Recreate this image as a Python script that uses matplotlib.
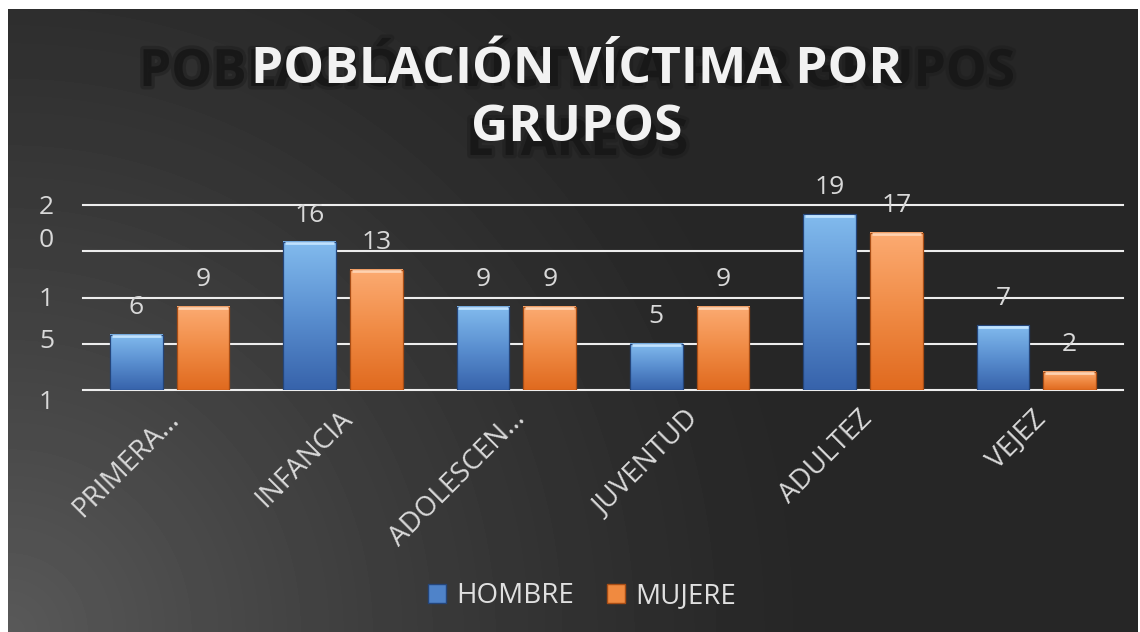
import matplotlib
matplotlib.use('agg')
import matplotlib.pyplot as plt
from matplotlib.colors import LinearSegmentedColormap
from matplotlib.patches import Patch
import matplotlib.transforms as mtransforms
import matplotlib.patheffects as pe
import numpy as np

categories = ['PRIMERA…', 'INFANCIA', 'ADOLESCEN…', 'JUVENTUD', 'ADULTEZ', 'VEJEZ']
hombre = [6, 16, 9, 5, 19, 7]
mujere = [9, 13, 9, 9, 17, 2]
series_names = ['HOMBRE', 'MUJERE']
gridlines = [0, 5, 10, 15, 20]
# the y labels are drawn wrapped/garbled in the original
y_tick_text = ['2', '0', '1', '5', '1']
y_tick_pos = [19.7, 16.2, 9.8, 5.2, -1.3]
title_lines = ['POBLACIÓN VÍCTIMA POR', 'GRUPOS']
ghost_lines = ['POBLACIÓN VÍCTIMA POR GRUPOS', 'ETAREOS']

W, H = 1140, 632
fig = plt.figure(figsize=(W / 100, H / 100), dpi=100)
fig.patch.set_facecolor('white')

# dark background with a soft light spot at bottom left
bg = fig.add_axes([8 / W, 0, 1130 / W, 623 / H])
yy, xx = np.mgrid[0:623, 0:1130]
d = np.sqrt((xx - 0) ** 2 + (yy - 623) ** 2)
grad = 0.149 + 0.2 * np.clip(1 - d / 820, 0, 1) ** 1.3
bg.imshow(grad, cmap='gray', vmin=0, vmax=1, aspect='auto', interpolation='bilinear')
bg.axis('off')

txt = '#d9d9d9'
font = 'Open Sans'

ax = fig.add_axes([83 / W, 242 / H, 1040 / W, 185 / H])
ax.patch.set_visible(False)
ax.set_xlim(-0.5, 5.5)
ax.set_ylim(0, 20)
for s in ax.spines.values():
    s.set_visible(False)

ax.set_yticks(gridlines)
ax.yaxis.grid(True, color='#ededed', lw=1.5)
for gl in ax.get_ygridlines():
    gl.set_clip_on(False)
ax.set_axisbelow(True)
ax.tick_params(axis='y', length=0, labelleft=False)

x = np.arange(len(categories))
w = 0.305
off = 0.1925
b1 = ax.bar(x - off, hombre, w, color='none', zorder=2)
b2 = ax.bar(x + off, mujere, w, color='none', zorder=2)

blue_cm = LinearSegmentedColormap.from_list('b', ['#3763ab', '#5a8fd0', '#82bbee'])
orange_cm = LinearSegmentedColormap.from_list('o', ['#e06a1f', '#f08b45', '#fcab72'])
g = np.linspace(0, 1, 128).reshape(-1, 1)

for bars, cm, edge, hi, vals in [(b1, blue_cm, '#24457a', '#bfe2ff', hombre),
                                 (b2, orange_cm, '#a84d15', '#ffd2b0', mujere)]:
    for p, v in zip(bars, vals):
        x0, h = p.get_x(), p.get_height()
        ax.imshow(g, cmap=cm, extent=[x0, x0 + w, 0, h], origin='lower',
                  aspect='auto', zorder=3)
        ax.add_patch(plt.Rectangle((x0, 0), w, h, fill=False, ec=edge, lw=0.9, zorder=4))
        ax.hlines(h - 0.15, x0 + 0.01, x0 + w - 0.01, color=hi, lw=2, zorder=5)
        ax.text(x0 + w / 2, h + 2.9, str(v), ha='center', va='center',
                fontsize=19, color=txt, family=font, zorder=6)

ax.set_xlim(-0.5, 5.5)
ax.set_ylim(0, 20)

trans = mtransforms.blended_transform_factory(ax.transAxes, ax.transData)
for t, yp in zip(y_tick_text, y_tick_pos):
    ax.text(-0.035, yp, t, transform=trans, ha='center', va='center',
            fontsize=19, color=txt, family=font, clip_on=False)

ax.set_xticks(x)
ax.set_xticklabels(categories, rotation=45, ha='right', va='center',
                   rotation_mode='anchor', fontsize=20, color=txt, family=font)
ax.tick_params(axis='x', length=0, pad=18)
shift = mtransforms.ScaledTranslation(5 / 100, 0, fig.dpi_scale_trans)
for lab in ax.get_xticklabels():
    lab.set_transform(lab.get_transform() + shift)

# title with a soft dark ghost of the full title behind it
tsize = 37
soft = [pe.withStroke(linewidth=5, foreground='#1e1e1e', alpha=0.5)]
fig.text(577 / W, 1 - 73 / H, ghost_lines[0], ha='center', va='center',
         fontsize=tsize, fontweight='bold', color='#171717', alpha=0.8, family=font,
         path_effects=soft)
fig.text(577 / W, 1 - 142 / H, ghost_lines[1], ha='center', va='center',
         fontsize=tsize, fontweight='bold', color='#171717', alpha=0.8, family=font,
         path_effects=soft)
fig.text(577 / W, 1 - 70 / H, title_lines[0], ha='center', va='center',
         fontsize=tsize, fontweight='bold', color='#f2f2f2', family=font)
fig.text(577 / W, 1 - 128 / H, title_lines[1], ha='center', va='center',
         fontsize=tsize, fontweight='bold', color='#f2f2f2', family=font)

handles = [Patch(facecolor='#4f83c9', edgecolor='#24457a'),
           Patch(facecolor='#f08a40', edgecolor='#a84d15')]
leg = fig.legend(handles, series_names, loc='center', bbox_to_anchor=(582 / W, 36 / H),
                 ncol=2, frameon=False, handlelength=0.65, handleheight=0.65,
                 handletextpad=0.35, columnspacing=1.2,
                 prop={'family': font, 'size': 20})
for t in leg.get_texts():
    t.set_color('#e0e0e0')

plt.savefig('out.png', dpi=100)
